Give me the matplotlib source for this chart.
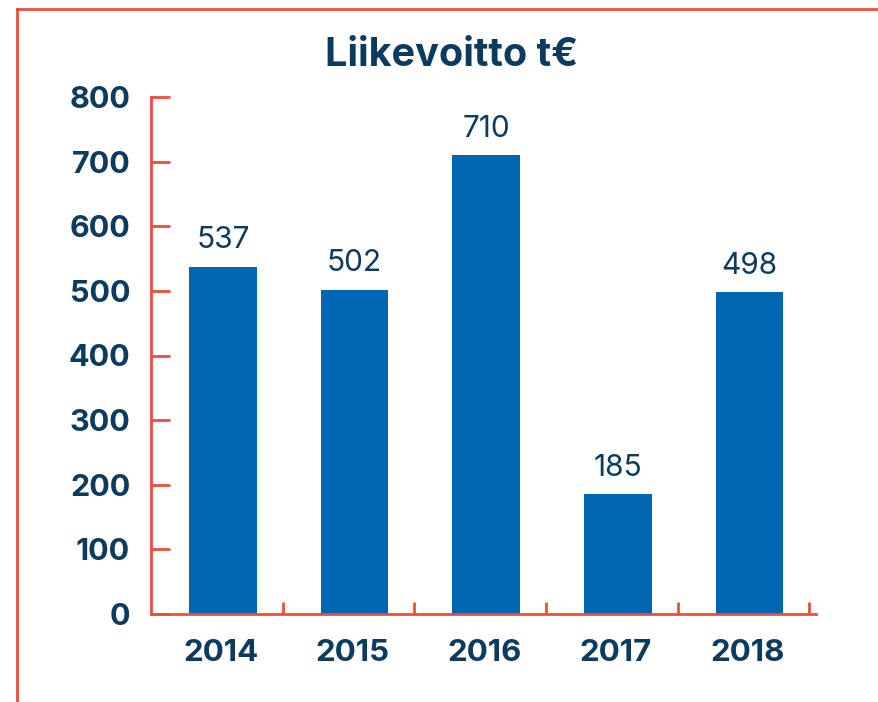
import numpy as np
import matplotlib.pyplot as plt
from matplotlib.lines import Line2D

# data
years = ["2014", "2015", "2016", "2017", "2018"]
profit = [537, 502, 710, 185, 498]
y_ticks = [0, 100, 200, 300, 400, 500, 600, 700, 800]

title = "Liikevoitto t€"

navy = "#0d3b5e"
blue = "#0066b1"
red = "#e8503a"

plt.rcParams['font.family'] = ['Inter', 'DejaVu Sans']

fig = plt.figure(figsize=(8.79, 7.02), dpi=100)
ax = fig.add_axes([151 / 879, 1 - 614 / 702, 665 / 879, 517 / 702])

x = np.arange(len(years))
shift = 0.045
ax.bar(x + shift, profit, width=0.515, color=blue, zorder=2)

for xi, v in zip(x, profit):
    ax.annotate(str(v), (xi + shift, v), xytext=(0, 9), textcoords="offset points",
                ha="center", va="bottom", fontsize=21.5, color=navy)

ax.set_xlim(-0.5, 4.55)
ax.set_ylim(0, 800)

# boundary ticks on x, labels at centres via minor ticks
ax.set_xticks(x + 0.5)
ax.set_xticklabels([])
ax.set_xticks(x + 0.03, minor=True)
ax.set_xticklabels(years, minor=True, fontsize=22.5, fontweight="bold", color=navy)
ax.tick_params(axis="x", which="major", direction="in", length=9, width=2, color=red)
ax.tick_params(axis="x", which="minor", length=0, pad=18)

ax.set_yticks(y_ticks)
ax.set_yticklabels([str(t) for t in y_ticks], fontsize=22, fontweight="bold", color=navy)
ax.tick_params(axis="y", direction="in", length=14, width=2, color=red, pad=15)

for side in ["top", "right"]:
    ax.spines[side].set_visible(False)
for side in ["left", "bottom"]:
    ax.spines[side].set_color(red)
    ax.spines[side].set_linewidth(2)

fig.text(452 / 879, 1 - 56 / 702, title, ha="center", va="center",
         fontsize=28.5, fontweight="bold", color=navy)

# outer frame lines (top and left)
fig.add_artist(Line2D([17 / 879, 1], [1 - 9 / 702, 1 - 9 / 702], color=red, lw=2))
fig.add_artist(Line2D([17 / 879, 17 / 879], [0, 1 - 9 / 702], color=red, lw=2))

fig.savefig("out.png", dpi=100)
